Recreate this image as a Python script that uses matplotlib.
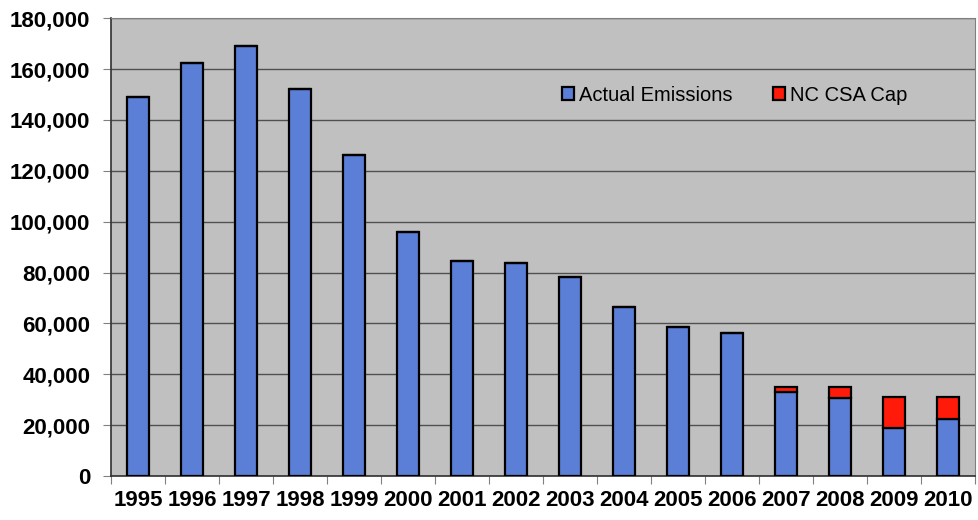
import numpy as np
import matplotlib.pyplot as plt

years = ['1995', '1996', '1997', '1998', '1999', '2000', '2001', '2002',
         '2003', '2004', '2005', '2006', '2007', '2008', '2009', '2010']
actual = [149000, 162300, 169000, 152000, 126200, 95900, 84500, 83700,
          78200, 66400, 58600, 56200, 33100, 30500, 19000, 22400]
# cap only exists from 2007 on
cap = [None] * 12 + [35000, 35000, 31000, 31000]

gap = [c - a if c is not None else 0 for a, c in zip(actual, cap)]

plt.rcParams['font.family'] = ['Liberation Sans', 'DejaVu Sans']

fig = plt.figure(figsize=(9.79, 5.2), dpi=100)
ax = fig.add_axes([0.1134, 0.0846, 0.8826, 0.8804])
ax.set_facecolor('#C0C0C0')

x = np.arange(len(years))
ax.bar(x, actual, width=0.42, color='#5B7FD6', edgecolor='black',
       linewidth=1.6, label='Actual Emissions', zorder=3)
ax.bar(x, gap, bottom=actual, width=0.42, color='#FF1A0A', edgecolor='black',
       linewidth=1.6, label='NC CSA Cap', zorder=3)

ax.set_xlim(-0.5, len(years) - 0.5)
ax.set_ylim(0, 180000)
ax.set_yticks(np.arange(0, 180001, 20000))
ax.set_yticklabels([f'{v:,}' for v in range(0, 180001, 20000)],
                   fontsize=16, fontweight='bold')
ax.yaxis.grid(True, color='#505050', linewidth=1.0, zorder=0)

# Excel style: ticks between categories, labels centred under bars
ax.set_xticks(np.arange(-0.5, len(years), 1.0))
ax.set_xticklabels([])
ax.set_xticks(x, minor=True)
ax.set_xticklabels(years, minor=True, fontsize=16, fontweight='bold')
ax.tick_params(axis='x', which='minor', length=0, pad=10)
ax.tick_params(axis='x', which='major', length=6, color='#808080')
ax.tick_params(axis='y', length=6, color='#808080', pad=9)

for side in ['top', 'right']:
    ax.spines[side].set_color('#808080')
for side in ['left', 'bottom']:
    ax.spines[side].set_color('#303030')
    ax.spines[side].set_linewidth(1.2)

ax.legend(loc='center', bbox_to_anchor=(0.722, 0.832), ncol=2, frameon=False,
          fontsize=14.5, handlelength=0.6, handleheight=0.6, handletextpad=0.25,
          columnspacing=2.0)

fig.savefig('out.png', dpi=100)
